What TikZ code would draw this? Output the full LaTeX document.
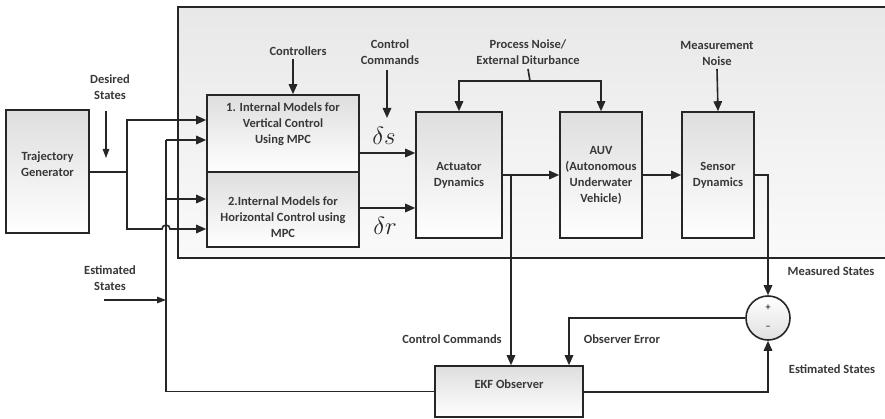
\documentclass[tikz,border=0pt]{standalone}
\usepackage{fontspec}
\setmainfont{Carlito}
\usetikzlibrary{arrows.meta,calc}
\begin{document}
\begin{tikzpicture}[x=1pt,y=1pt,
  wire/.style={draw=black!85, line width=1.6pt},
  arr/.style={wire, -{Triangle[length=10pt,width=8.5pt]}},
  sarr/.style={draw=black!85, line width=1.1pt, -{Triangle[length=9pt,width=6.5pt]}},
  blk/.style={draw=black!85, line width=1.6pt, rectangle, top color=black!13, bottom color=white, inner sep=0pt},
  lbl/.style={font=\fontsize{12.5}{16}\selectfont\bfseries, text=black!78, align=center, inner sep=0pt},
  sym/.style={font=\fontsize{25}{25}\selectfont, text=black!85, inner sep=0pt},
]
\useasboundingbox (0,0) rectangle (885,-419);
\clip (0,0) rectangle (885,-419);
\fill[white] (0,0) rectangle (885,-419);

% big plant box
\path[top color=black!9, bottom color=black!2] (178,-7) rectangle (892,-258);
\draw[wire] (892,-7) -- (178,-7) -- (178,-258) -- (892,-258);

% blocks
\node[blk, minimum width=83pt, minimum height=123pt] (tg) at (47.5,-171.5) {};
\node[lbl] (tgt) at (47.5,-164) {Trajectory\\Generator};

\node[blk, minimum width=152pt, minimum height=77pt] (mpc1) at (283,-133.5) {};
\node[lbl] (m1t) at (283,-124) {1. Internal Models for\\Vertical Control\\Using MPC};
\node[blk, minimum width=152pt, minimum height=75pt] (mpc2) at (283,-209.5) {};
\node[lbl] (m2t) at (283,-217) {2.Internal Models for\\Horizontal Control using\\MPC};

\node[blk, minimum width=86pt, minimum height=126pt, lbl, draw=black!85, line width=1.6pt] (act) at (459,-175) {Actuator\\Dynamics};
\node[blk, minimum width=82pt, minimum height=126pt, lbl, draw=black!85, line width=1.6pt] (auv) at (601,-175) {AUV\\(Autonomous\\Underwater\\Vehicle)};
\node[blk, minimum width=72pt, minimum height=126pt, lbl, draw=black!85, line width=1.6pt] (sen) at (718,-175) {Sensor\\Dynamics};

\node[blk, minimum width=148pt, minimum height=51pt] (ekf) at (509,-391.5) {};
\node[lbl] (ekft) at (509,-384) {EKF Observer};

\node[circle, draw=black!85, line width=1.6pt, minimum size=44pt, inner sep=0pt, top color=white, bottom color=black!12] (sum) at (768,-318) {};
\node[lbl, font=\fontsize{10}{10}\selectfont\bfseries] (plus) at (768,-308) {+};
\node[lbl, font=\fontsize{10}{10}\selectfont\bfseries] (minus) at (768,-328) {\textendash};

% labels
\node[lbl] (desl) at (110,-87) {Desired\\States};
\node[lbl] (ctll) at (298,-51) {Controllers};
\node[lbl] (ccl) at (390,-52.5) {Control\\Commands};
\node[lbl] (pnl) at (528,-52.5) {Process Noise/\\External Diturbance};
\node[lbl] (mnl) at (717,-53) {Measurement\\Noise};
\node[lbl] (esl) at (110,-278) {Estimated\\States};
\node[lbl] (msl) at (831,-271) {Measured States};
\node[lbl] (esr) at (832,-369) {Estimated States};
\node[lbl] (ccb) at (452,-339) {Control Commands};
\node[lbl] (oel) at (622,-339) {Observer Error};
\node[sym] (ds) at (384,-136) {$\delta s$};
\node[sym] (dr) at (385,-226) {$\delta r$};

% coordinates
\coordinate (j1) at (127,-172);
\coordinate (es) at (166,-140);
\coordinate (ptop) at (530,-81);
\coordinate (br) at (511,-175);

% trajectory generator outputs
\draw[wire] (tg.east |- j1) -- (j1);
\draw[arr] (j1) |- (mpc1.west |- 0,-120);
\draw[arr] (j1) -- (127,-229) -- (162,-229) arc (180:0:4pt) -- (mpc2.west |- 0,-229);

% estimated states feedback
\draw[wire] (ekf.west) -| (es);
\draw[arr] (es) -- (mpc1.west |- es);
\draw[arr] (166,-199) -- (mpc2.west |- 0,-199);
\draw[sarr] (104,-300) -- (166,-300);

% free input arrows
\draw[sarr] (106,-111) -- (106,-158);
\draw[arr] (293,-59) -- (mpc1.north -| 293,0);
\draw[arr] (387,-70) -- (387,-118);
\draw[wire] (pnl.south |- 0,-69) -- (ptop);
\draw[arr] (ptop) -| (act.north);
\draw[arr] (ptop) -| (auv.north);
\draw[arr] (mnl.south |- 0,-69) -- (sen.north);

% forward path
\draw[arr] (mpc1.east |- 0,-153) -- (act.west |- 0,-153);
\draw[arr] (mpc2.east |- 0,-208) -- (act.west |- 0,-208);
\draw[arr] (act.east) -- (auv.west);
\draw[arr] (auv.east) -- (sen.west);
\draw[arr] (sen.east) -| (sum.north);
\draw[arr] (br) -- (ekf.north -| br);

% observer loop
\draw[arr] (ekf.east |- 0,-392) -| (sum.south);
\draw[arr] (sum.west) -| (ekf.north -| 569,0);
\end{tikzpicture}
\end{document}
